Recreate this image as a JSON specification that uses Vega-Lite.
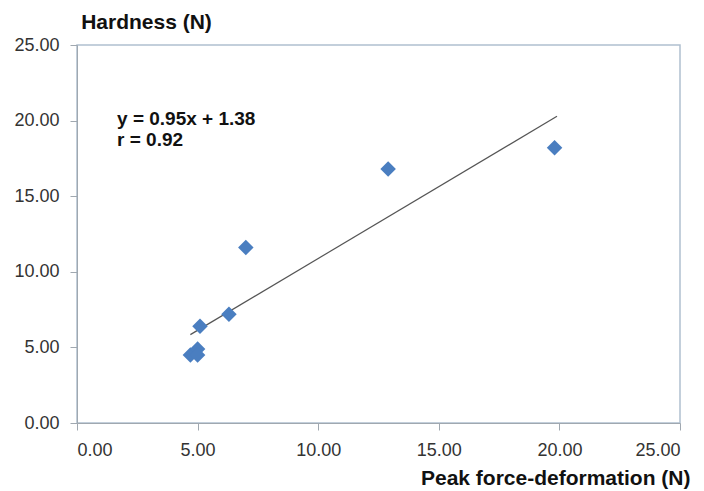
{
  "$schema": "https://vega.github.io/schema/vega-lite/v6.json",
  "width": 603,
  "height": 378,
  "autosize": "none",
  "padding": {"left": 77, "top": 45, "right": 24, "bottom": 68},
  "background": "white",
  "config": {
    "view": {"stroke": "#b0c0d0", "strokeWidth": 1.5},
    "font": "Liberation Sans"
  },
  "datasets": {
    "pts": [
      {"x": 4.7, "y": 4.5},
      {"x": 5.0, "y": 4.9},
      {"x": 5.0, "y": 4.5},
      {"x": 5.1, "y": 6.4},
      {"x": 6.3, "y": 7.2},
      {"x": 7.0, "y": 11.6},
      {"x": 12.9, "y": 16.8},
      {"x": 19.8, "y": 18.2}
    ],
    "fit": [
      {"x": 4.7, "y": 5.845},
      {"x": 19.9, "y": 20.285}
    ],
    "notes": [
      {"x": 1.66, "y": 20.1, "label": "y = 0.95x + 1.38"},
      {"x": 1.66, "y": 18.75, "label": "r = 0.92"}
    ]
  },
  "layer": [
    {
      "data": {"name": "fit"},
      "mark": {"type": "line", "color": "#555555", "strokeWidth": 1.2},
      "encoding": {
        "x": {
          "field": "x", "type": "quantitative",
          "scale": {"domain": [0, 25], "nice": false},
          "axis": {
            "values": [0, 5, 10, 15, 20, 25],
            "format": ".2f",
            "grid": false,
            "domainColor": "#a0a8b0",
            "tickColor": "#a0a8b0",
            "tickSize": 7,
            "labelFontSize": 18,
            "labelColor": "#333333",
            "labelPadding": 11,
            "title": "Peak force-deformation (N)",
            "titleFontSize": 21,
            "titleFontWeight": "bold",
            "titleColor": "#111111",
            "titleAlign": "right",
            "titleAnchor": null,
            "titleX": 613,
            "titleY": 55,
            "titleBaseline": "middle"
          }
        },
        "y": {
          "field": "y", "type": "quantitative",
          "scale": {"domain": [0, 25], "nice": false},
          "axis": {
            "values": [0, 5, 10, 15, 20, 25],
            "format": ".2f",
            "grid": false,
            "domainColor": "#a0a8b0",
            "tickColor": "#a0a8b0",
            "tickSize": 7,
            "labelFontSize": 18,
            "labelColor": "#333333",
            "labelPadding": 11,
            "title": "Hardness (N)",
            "titleFontSize": 21,
            "titleFontWeight": "bold",
            "titleColor": "#111111",
            "titleAngle": 0,
            "titleAlign": "center",
            "titleAnchor": null,
            "titleX": 69,
            "titleY": -23,
            "titleBaseline": "middle"
          }
        }
      }
    },
    {
      "data": {"name": "pts"},
      "mark": {"type": "point", "shape": "diamond", "filled": true, "size": 240, "color": "#4a7ec0", "opacity": 1},
      "encoding": {
        "x": {"field": "x", "type": "quantitative"},
        "y": {"field": "y", "type": "quantitative"}
      }
    },
    {
      "data": {"name": "notes"},
      "mark": {
        "type": "text",
        "align": "left",
        "baseline": "middle",
        "fontSize": 19,
        "fontWeight": "bold",
        "color": "#111111"
      },
      "encoding": {
        "x": {"field": "x", "type": "quantitative"},
        "y": {"field": "y", "type": "quantitative"},
        "text": {"field": "label"}
      }
    }
  ]
}
